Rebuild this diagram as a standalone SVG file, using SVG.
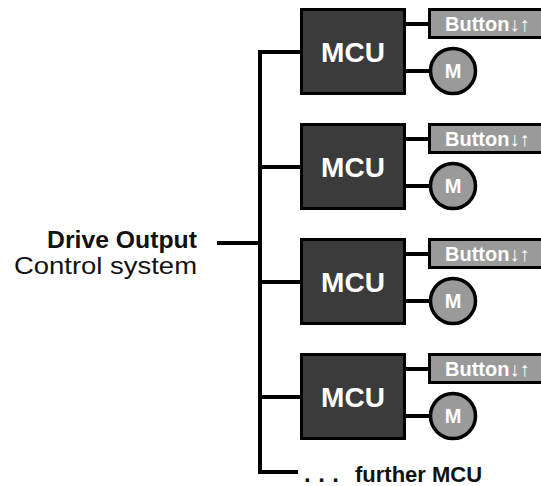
<svg xmlns="http://www.w3.org/2000/svg" width="541" height="486" viewBox="0 0 541 486">
<style>
.mcu{fill:#3b3b3b;stroke:#000;stroke-width:3}
.btn{fill:#9a9a9a;stroke:#000;stroke-width:3}
.mot{fill:#9a9a9a;stroke:#000;stroke-width:3.5}
.ln{stroke:#000;stroke-width:4;fill:none}
.t{font-family:"Liberation Sans",Arial,sans-serif;font-weight:bold;fill:#fff}
.lbl{font-family:"Liberation Sans",Arial,sans-serif;fill:#111}
</style>
<rect width="541" height="486" fill="#fff"/>
<g id="connectors">
<path class="ln" d="M300,52 H260 V472 H298"/>
<path class="ln" d="M217,243 H260"/>
<path class="ln" d="M260,167 H300 M260,282 H300 M260,397 H300"/>
<path class="ln" d="M406,24 H430 M406,71 H432"/>
<path class="ln" d="M406,139 H430 M406,186 H432"/>
<path class="ln" d="M406,254 H430 M406,301 H432"/>
<path class="ln" d="M406,369 H430 M406,416 H432"/>
</g>
<g id="source">
<text class="lbl" x="197" y="248" font-size="24" font-weight="bold" text-anchor="end" textLength="150" lengthAdjust="spacingAndGlyphs">Drive Output</text>
<text class="lbl" x="197" y="274" font-size="24" text-anchor="end" textLength="183" lengthAdjust="spacingAndGlyphs">Control system</text>
</g>
<g id="row1">
<rect class="mcu" x="301.5" y="9.5" width="103" height="84"/>
<text class="t" x="353" y="62" font-size="28" text-anchor="middle">MCU</text>
<rect class="btn" x="429.5" y="9.5" width="120" height="28"/>
<text class="t" x="445" y="31" font-size="20">Button↓↑</text>
<circle class="mot" cx="453" cy="71" r="22.5"/>
<text class="t" x="453" y="78" font-size="20" text-anchor="middle">M</text>
</g>
<g id="row2" transform="translate(0,115)">
<rect class="mcu" x="301.5" y="9.5" width="103" height="84"/>
<text class="t" x="353" y="62" font-size="28" text-anchor="middle">MCU</text>
<rect class="btn" x="429.5" y="9.5" width="120" height="28"/>
<text class="t" x="445" y="31" font-size="20">Button↓↑</text>
<circle class="mot" cx="453" cy="71" r="22.5"/>
<text class="t" x="453" y="78" font-size="20" text-anchor="middle">M</text>
</g>
<g id="row3" transform="translate(0,230)">
<rect class="mcu" x="301.5" y="9.5" width="103" height="84"/>
<text class="t" x="353" y="62" font-size="28" text-anchor="middle">MCU</text>
<rect class="btn" x="429.5" y="9.5" width="120" height="28"/>
<text class="t" x="445" y="31" font-size="20">Button↓↑</text>
<circle class="mot" cx="453" cy="71" r="22.5"/>
<text class="t" x="453" y="78" font-size="20" text-anchor="middle">M</text>
</g>
<g id="row4" transform="translate(0,345)">
<rect class="mcu" x="301.5" y="9.5" width="103" height="84"/>
<text class="t" x="353" y="62" font-size="28" text-anchor="middle">MCU</text>
<rect class="btn" x="429.5" y="9.5" width="120" height="28"/>
<text class="t" x="445" y="31" font-size="20">Button↓↑</text>
<circle class="mot" cx="453" cy="71" r="22.5"/>
<text class="t" x="453" y="78" font-size="20" text-anchor="middle">M</text>
</g>
<g id="further">
<text x="304" y="482" font-family="Liberation Sans,Arial,sans-serif" font-weight="bold" font-size="24" fill="#111"><tspan letter-spacing="7.5">...</tspan><tspan x="355" font-size="22">further MCU</tspan></text>
</g>
</svg>
